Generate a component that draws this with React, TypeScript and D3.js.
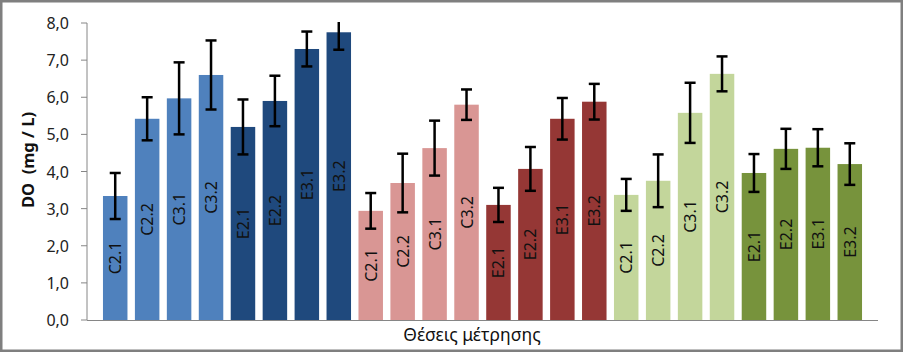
import React from 'react';
import * as d3 from 'd3';

// site labels, repeated for each of the three groups
const siteLabels = ['C2.1', 'C2.2', 'C3.1', 'C3.2', 'E2.1', 'E2.2', 'E3.1', 'E3.2'];

// mean DO (mg/L) per group
const blueValues = [3.34, 5.42, 5.97, 6.6, 5.2, 5.9, 7.3, 7.75];
const blueErrors = [0.62, 0.58, 0.97, 0.93, 0.74, 0.68, 0.47, 0.47];
const redValues = [2.94, 3.69, 4.63, 5.8, 3.1, 4.07, 5.42, 5.88];
const redErrors = [0.48, 0.79, 0.74, 0.41, 0.46, 0.59, 0.56, 0.48];
const greenValues = [3.37, 3.75, 5.58, 6.63, 3.96, 4.61, 4.64, 4.2];
const greenErrors = [0.43, 0.71, 0.81, 0.47, 0.51, 0.54, 0.5, 0.56];

const yTicks = [0, 1, 2, 3, 4, 5, 6, 7, 8];

const groups = [
  { values: blueValues, errors: blueErrors, colors: ['#4f81bd', '#1f497d'] },
  { values: redValues, errors: redErrors, colors: ['#d99694', '#953735'] },
  { values: greenValues, errors: greenErrors, colors: ['#c3d69b', '#77933c'] },
];

const width = 903;
const height = 352;
const left = 87;
const right = 878;
const top = 23;
const bottom = 320;

const fmt = d3.formatLocale({ decimal: ',', thousands: '.', grouping: [3], currency: ['', '€'] }).format('.1f');
const font = "'Noto Sans', 'Open Sans', sans-serif";

export default function App() {
  const rows = groups.flatMap((g, gi) =>
    siteLabels.map((label, i) => ({
      key: `${gi}-${i}`,
      label,
      value: g.values[i],
      err: g.errors[i],
      color: label.startsWith('C') ? g.colors[0] : g.colors[1],
    }))
  );

  const x = d3.scaleBand<string>()
    .domain(rows.map(r => r.key))
    .range([left, right])
    .paddingInner(0.233)
    .paddingOuter(0.5);

  const y = d3.scaleLinear().domain([0, 8]).range([bottom, top]);
  const bw = x.bandwidth();

  return (
    <svg width={width} height={height} style={{ position: 'absolute', left: 0, top: 0 }}>
      <rect x={0} y={0} width={width} height={height} fill="#fff" />
      <rect x={1.25} y={1.25} width={width - 2.5} height={height - 2.5} fill="none" stroke="#7f7f7f" strokeWidth={2.5} />
      <defs>
        <clipPath id="plot">
          <rect x={left} y={top - 1} width={right - left} height={bottom - top + 1} />
        </clipPath>
      </defs>

      {/* bars */}
      {rows.map(r => (
        <rect key={r.key} x={x(r.key)} y={y(r.value)} width={bw} height={bottom - y(r.value)} fill={r.color} />
      ))}

      {/* bar labels */}
      {rows.map(r => {
        const cx = (x(r.key) as number) + bw / 2;
        const cy = (y(r.value) + bottom) / 2;
        return (
          <text key={r.key} transform={`translate(${cx},${cy}) rotate(-90)`} textAnchor="middle"
            dominantBaseline="central" fontFamily={font} fontSize={16} fill="#111">
            {r.label}
          </text>
        );
      })}

      {/* error bars */}
      <g clipPath="url(#plot)" stroke="#000" strokeWidth={2.5}>
        {rows.map(r => {
          const cx = (x(r.key) as number) + bw / 2;
          const hi = y(r.value + r.err);
          const lo = y(r.value - r.err);
          return (
            <g key={r.key}>
              <line x1={cx} x2={cx} y1={hi} y2={lo} />
              <line x1={cx - 5.5} x2={cx + 5.5} y1={hi} y2={hi} />
              <line x1={cx - 5.5} x2={cx + 5.5} y1={lo} y2={lo} />
            </g>
          );
        })}
      </g>

      {/* axes */}
      <line x1={left} x2={left} y1={top} y2={bottom} stroke="#868686" strokeWidth={1} />
      <line x1={left} x2={right} y1={bottom + 0.5} y2={bottom + 0.5} stroke="#868686" strokeWidth={1.2} />
      {yTicks.map(t => (
        <g key={t}>
          <line x1={left - 6} x2={left} y1={y(t)} y2={y(t)} stroke="#868686" />
          <text x={69} y={y(t)} textAnchor="end" dominantBaseline="central" fontFamily={font} fontSize={16} fill="#222">
            {fmt(t)}
          </text>
        </g>
      ))}

      <text transform={`translate(27,160) rotate(-90)`} textAnchor="middle" dominantBaseline="central"
        fontFamily={font} fontSize={16.5} fontWeight="bold" fill="#111" style={{ whiteSpace: 'pre' }}>
        {'DO  (mg / L)'}
      </text>
      <text x={472} y={341} textAnchor="middle" fontFamily={font} fontSize={17.5} fill="#111">
        Θέσεις μέτρησης
      </text>
    </svg>
  );
}
